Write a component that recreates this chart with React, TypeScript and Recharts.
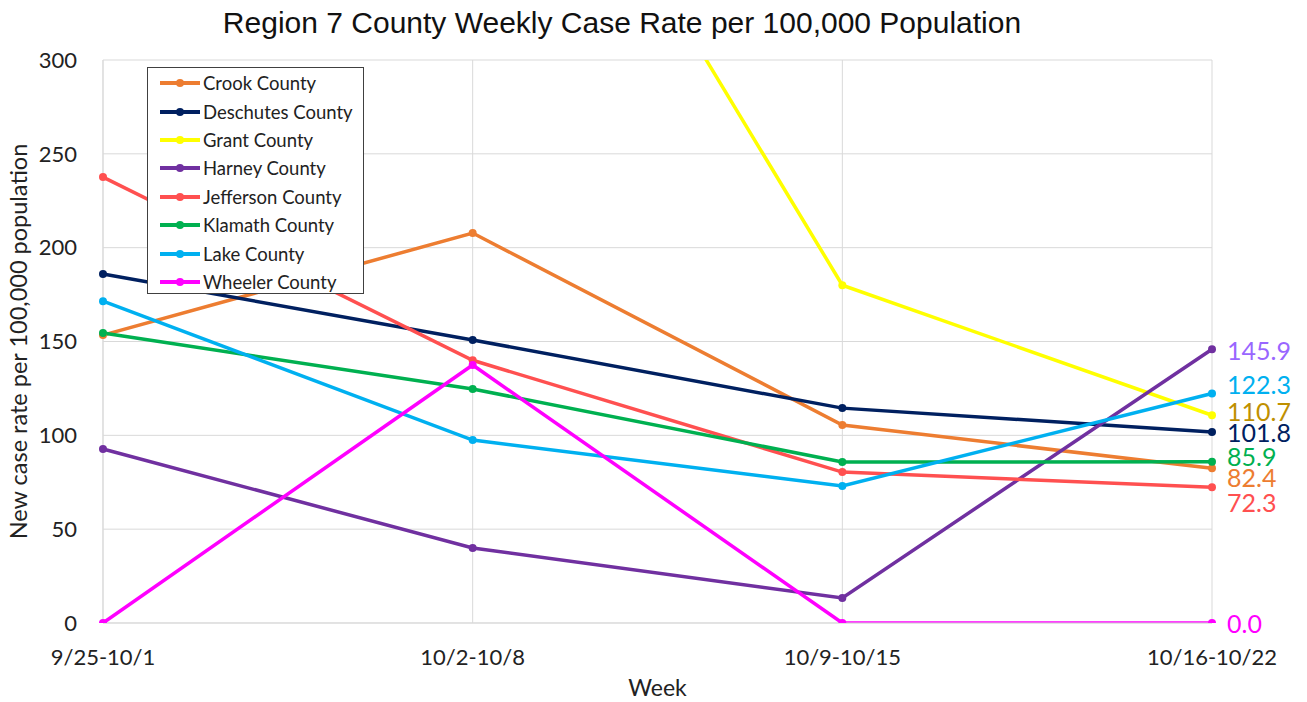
import React from 'react';
import { LineChart, Line, XAxis, YAxis, CartesianGrid, LabelList } from 'recharts';

const weeks = ['9/25-10/1', '10/2-10/8', '10/9-10/15', '10/16-10/22'];
const crook = [153.4, 207.8, 105.5, 82.4];
const deschutes = [186.0, 150.8, 114.5, 101.8];
const grant = [620.0, 506.0, 180.0, 110.7];
const harney = [92.7, 40.0, 13.3, 145.9];
const jefferson = [237.6, 140.0, 80.4, 72.3];
const klamath = [154.5, 124.7, 85.8, 85.9];
const lake = [171.5, 97.5, 73.0, 122.3];
const wheeler = [0.0, 137.5, 0.0, 0.0];
const yTicks = [0, 50, 100, 150, 200, 250, 300];

const series = [
  { key: 'crook', name: 'Crook County', values: crook, color: '#ED7D31', labelColor: '#ED7D31', dy: 10 },
  { key: 'deschutes', name: 'Deschutes County', values: deschutes, color: '#002060', labelColor: '#002060', dy: 1 },
  { key: 'grant', name: 'Grant County', values: grant, color: '#FFFF00', labelColor: '#BF9000', dy: -3.5 },
  { key: 'harney', name: 'Harney County', values: harney, color: '#7030A0', labelColor: '#9966FF', dy: 1.5 },
  { key: 'jefferson', name: 'Jefferson County', values: jefferson, color: '#FF5050', labelColor: '#FF5050', dy: 16 },
  { key: 'klamath', name: 'Klamath County', values: klamath, color: '#00B050', labelColor: '#00B050', dy: -5 },
  { key: 'lake', name: 'Lake County', values: lake, color: '#00B0F0', labelColor: '#00B0F0', dy: -8 },
  { key: 'wheeler', name: 'Wheeler County', values: wheeler, color: '#FF00FF', labelColor: '#FF00FF', dy: 1 },
];

const data = weeks.map((w, i) => {
  const row: any = { week: w };
  series.forEach((s) => { row[s.key] = s.values[i]; });
  return row;
});

const FONT = 'Lato, "Open Sans", sans-serif';

const LegendBox = () => (
  <div style={{ position: 'absolute', left: 147, top: 67, border: '1px solid #404040', background: '#fff', width: 217, height: 227, boxSizing: 'border-box', paddingTop: 1 }}>
    {series.map((s) => (
      <div key={s.key} style={{ display: 'flex', alignItems: 'center', height: 28.4 }}>
        <svg width={55} height={14} style={{ flex: 'none' }}>
          <line x1={12} y1={7} x2={52} y2={7} stroke={s.color} strokeWidth={4} />
          <circle cx={32} cy={7} r={4} fill={s.color} />
        </svg>
        <span style={{ fontFamily: FONT, fontSize: 18.5, color: '#222', whiteSpace: 'nowrap' }}>{s.name}</span>
      </div>
    ))}
  </div>
);

const makeLabel = (s: any) => (props: any) => {
  const { x, y, index, value } = props;
  if (index !== weeks.length - 1) return null;
  return (
    <text x={x + 15} y={y + s.dy} dy="0.36em" fill={s.labelColor} fontFamily={FONT} fontSize={25} textAnchor="start">
      {Number(value).toFixed(1)}
    </text>
  );
};

export default function App() {
  return (
    <div style={{ position: 'absolute', left: 0, top: 0, width: 1307, height: 702, background: '#fff' }}>
      <div style={{ position: 'absolute', left: 0, width: 1244, top: 6, textAlign: 'center', fontFamily: '"Liberation Sans", Arial, sans-serif', fontSize: 30, color: '#111' }}>
        Region 7 County Weekly Case Rate per 100,000 Population
      </div>
      <LineChart width={1307} height={702} data={data} margin={{ top: 60, right: 95, left: 0, bottom: 0 }}>
        <CartesianGrid stroke="#d9d9d9" strokeWidth={1} />
        <XAxis
          dataKey="week"
          tickSize={0}
          tickMargin={26}
          height={79}
          axisLine={{ stroke: '#d9d9d9' }}
          tick={{ fontFamily: FONT, fontSize: 22, fill: '#222' }}
          interval={0}
          padding={{ left: 0, right: 0 }}
          label={{ value: 'Week', position: 'insideBottom', offset: 6, fontFamily: FONT, fontSize: 23, fill: '#222' }}
        />
        <YAxis
          domain={[0, 300]}
          ticks={yTicks}
          allowDataOverflow
          width={103}
          tickSize={0}
          tickMargin={26}
          axisLine={{ stroke: '#d9d9d9' }}
          tick={{ fontFamily: FONT, fontSize: 22, fill: '#222' }}
          label={{ value: 'New case rate per 100,000 population', angle: -90, position: 'insideLeft', offset: 19, style: { textAnchor: 'middle' }, fontFamily: FONT, fontSize: 23.5, fill: '#222' }}
        />
        {series.map((s) => (
          <Line
            key={s.key}
            dataKey={s.key}
            name={s.name}
            stroke={s.color}
            strokeWidth={3.5}
            dot={{ r: 4, fill: s.color, stroke: s.color, strokeWidth: 0 }}
            activeDot={false}
            isAnimationActive={false}
          >
            <LabelList dataKey={s.key} content={makeLabel(s)} />
          </Line>
        ))}
      </LineChart>
      <LegendBox />
    </div>
  );
}
